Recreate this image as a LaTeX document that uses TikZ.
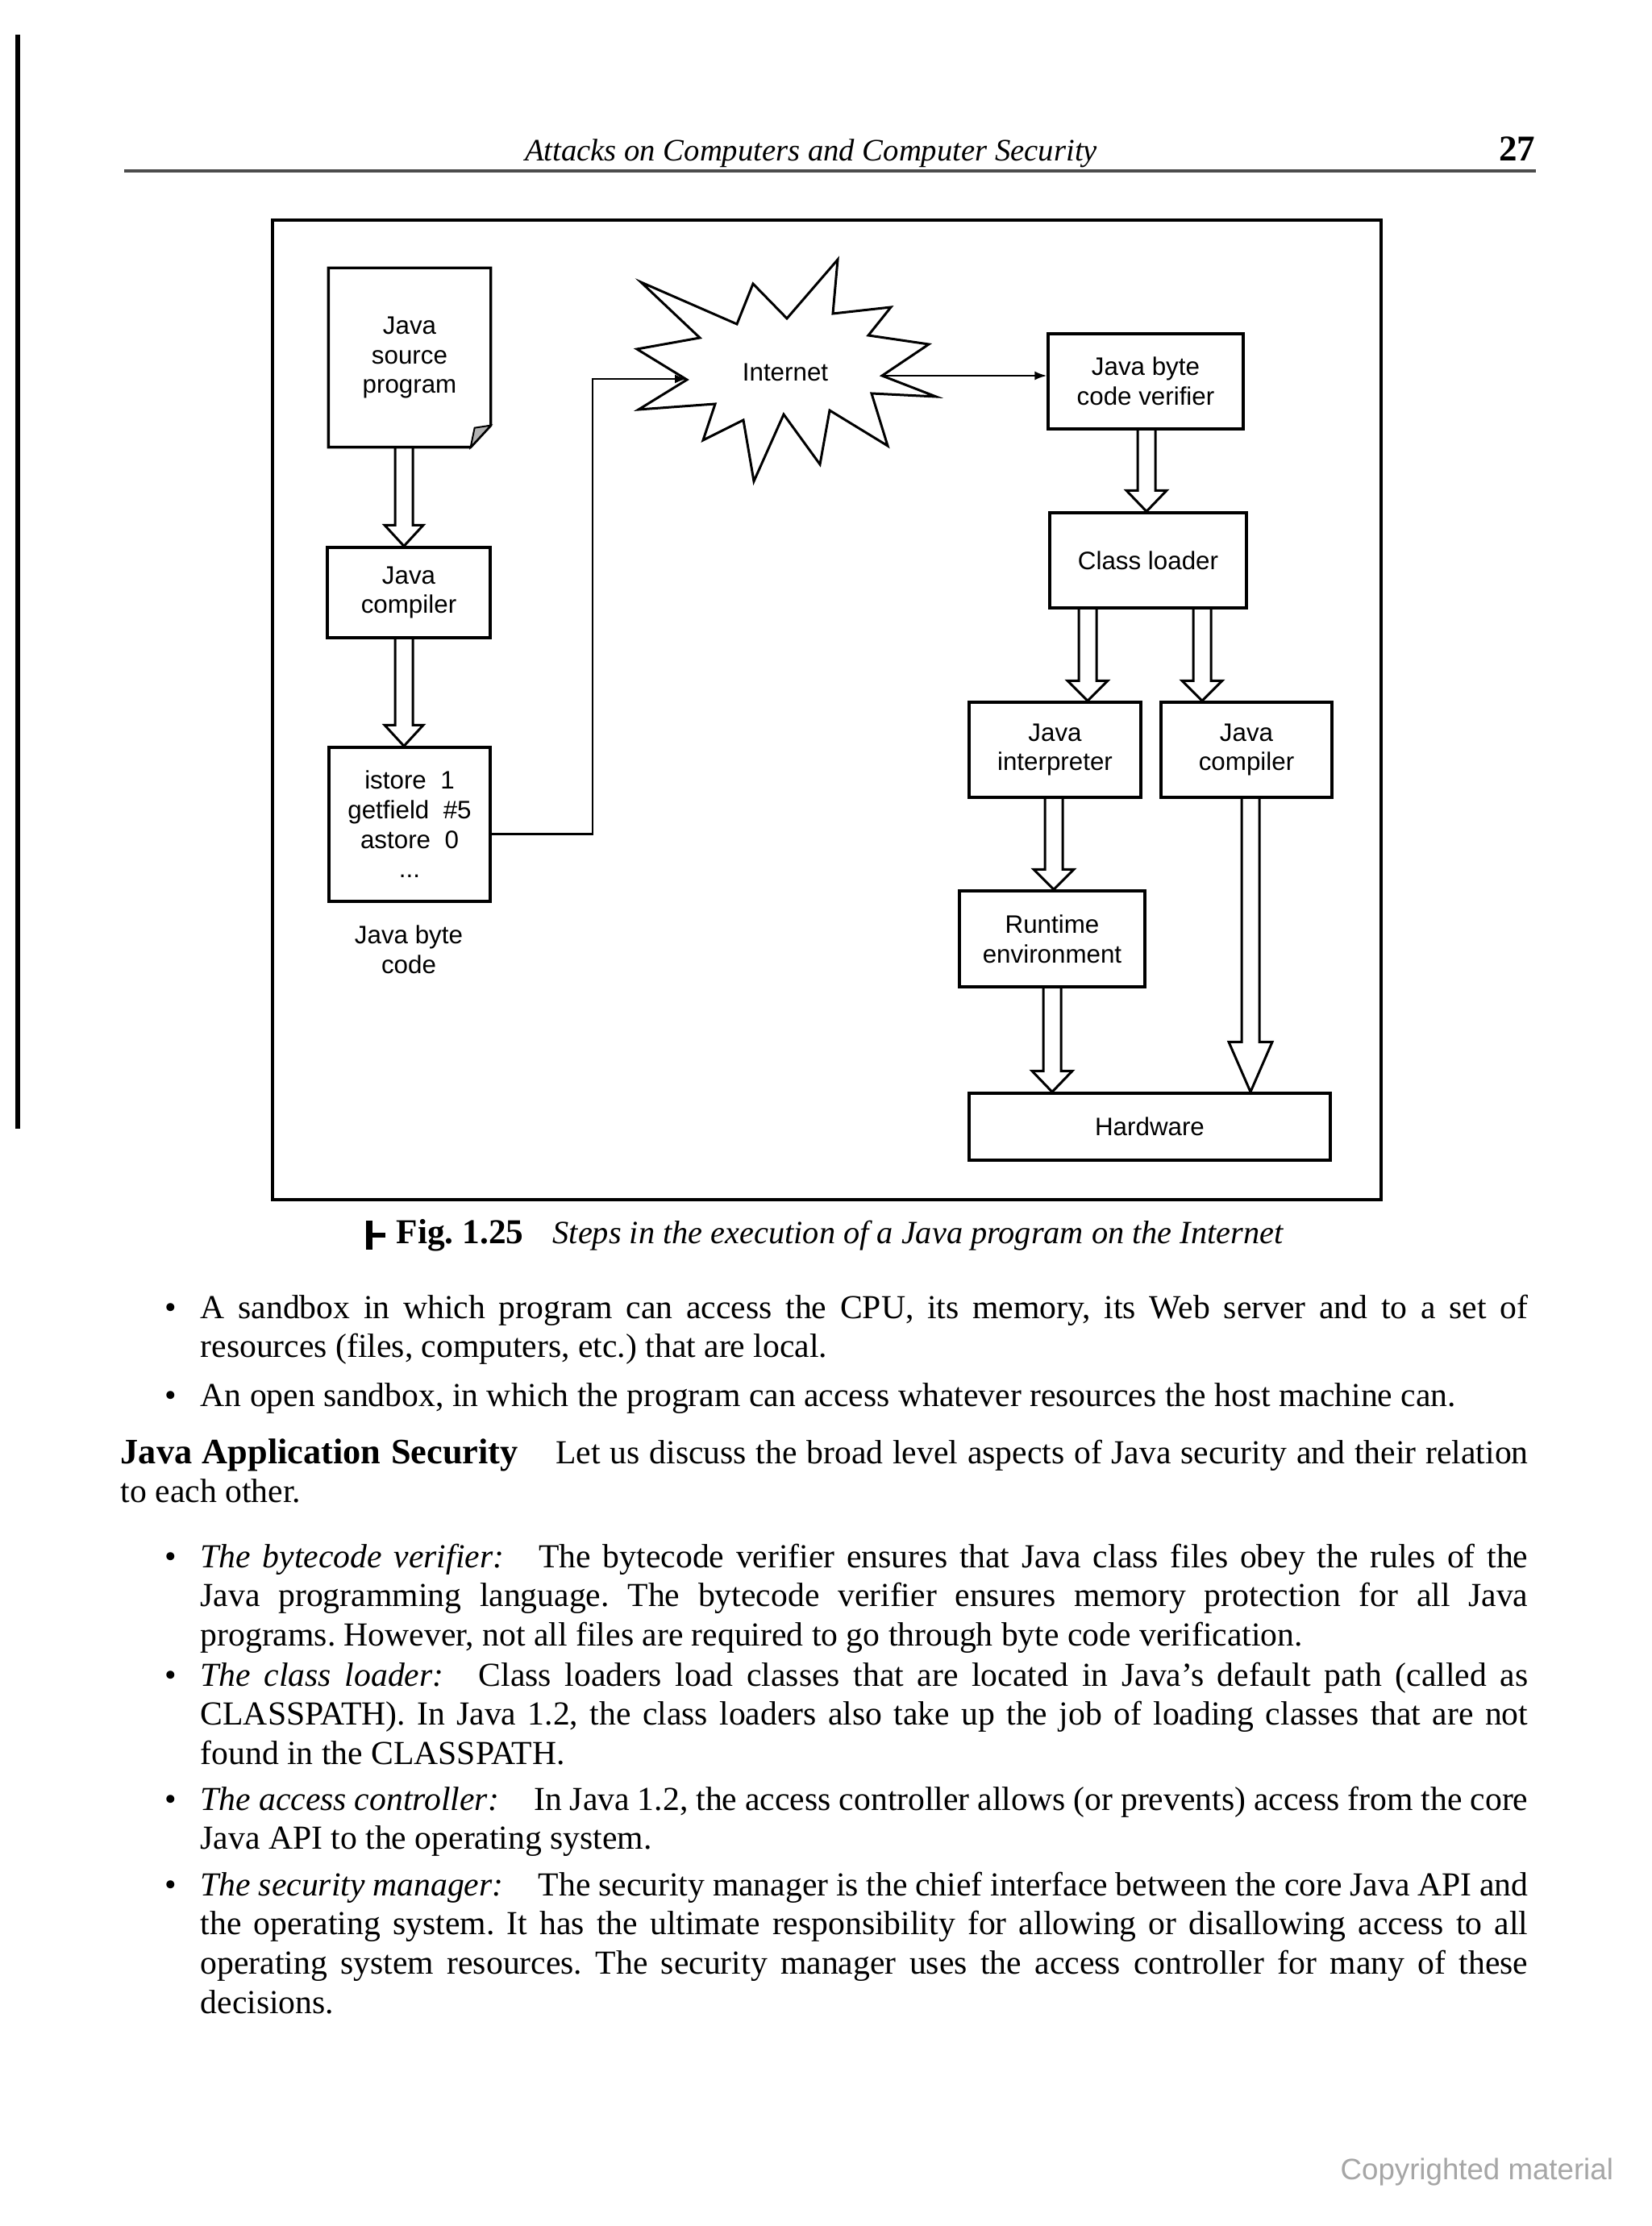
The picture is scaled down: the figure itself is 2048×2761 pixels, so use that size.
\documentclass[tikz,border=0pt]{standalone}
\usepackage{fontspec}
\setmainfont{Liberation Serif}
\setsansfont{Liberation Sans}
\usetikzlibrary{calc,arrows.meta}
\frenchspacing
\newcommand\dfont{\sffamily\fontsize{9.4}{11}\selectfont}
\newcommand\bodyfont{\rmfamily\fontsize{12.5}{14.6}\selectfont\frenchspacing\tolerance=9999\hyphenpenalty=10000\exhyphenpenalty=10000}
\newcommand\blockarrow[4]{%
  \draw[hollow] ($#1+(-11,0)$) -- ($#2+(-11,-#3)$) -- ($#2+(-#4,-#3)$) -- #2
    -- ($#2+(#4,-#3)$) -- ($#2+(11,-#3)$) -- ($#1+(11,0)$);}
\begin{document}
\begin{tikzpicture}[x=0.3pt,y=-0.3pt,
  box/.style={draw, line width=1pt, align=center, inner sep=0pt, font=\dfont},
  plain/.style={align=center, inner sep=0pt, font=\dfont},
  hollow/.style={line width=0.9pt, line join=miter},
  conn/.style={line width=0.7pt, -{Latex[length=4.5pt,width=3.3pt]}},
  body/.style={anchor=base west, inner sep=0pt}]
\useasboundingbox (0,0) rectangle (2048,2761);
\fill[white] (0,0) rectangle (2048,2761);

% scan edge line
\draw[line width=1.8pt] (22,43) -- (22,1400);

% running head
\node[anchor=base, inner sep=0pt, font=\rmfamily\itshape\fontsize{11.6}{13}\selectfont] (head) at (1006,200) {Attacks on Computers and Computer Security};
\node[anchor=base east, inner sep=0pt, font=\rmfamily\bfseries\fontsize{13.5}{15}\selectfont] (pno) at (1905,200) {27};
\draw[line width=1pt, black!70] (154,212) -- (1905,212);

% figure frame
\draw[line width=1.2pt] (338,273) rectangle (1713,1488);

% left column
\node[plain, minimum width=60pt, minimum height=66.3pt] (src) at (508,443.5) {Java\\source\\program};
\draw[line width=1pt, line join=miter] (src.north west) -- (src.north east) -- ($(src.south east)+(0,-27)$) -- ($(src.south east)+(-25,0)$) -- (src.south west) -- cycle;
\filldraw[fill=gray!60, line width=0.6pt] ($(src.south east)+(-25,0)$) -- ($(src.south east)+(-20,-24)$) -- ($(src.south east)+(0,-27)$) -- cycle;

\node[box, minimum width=60.6pt, minimum height=33.6pt] (comp1) at (507,735) {Java\\compiler};
\node[box, minimum width=60pt, minimum height=57.3pt] (bc) at (508,1022.5) {istore~~1\\getfield~~\#5\\astore~~0\\...};
\node[plain] (bclabel) at (507,1178) {Java byte\\code};

% internet star
\draw[line width=0.9pt, line join=miter] (1039,322) -- (1033,389) -- (1105,381) -- (1077,416) -- (1152,427) -- (1094,466) -- (1161,492) -- (1081,488) -- (1101,553) -- (1029,509) -- (1017,576) -- (972,514) -- (935,597) -- (922,521) -- (872,546) -- (887,501) -- (792,508) -- (852,471) -- (790,433) -- (868,419) -- (795,350) -- (914,402) -- (934,352) -- (976,395) -- cycle;
\node[plain] (inet) at (974,462) {Internet};
\coordinate (starL) at (852,470);
\coordinate (starR) at (1094,466);

% right column
\node[box, minimum width=72.6pt, minimum height=35.4pt] (ver) at (1421,473) {Java byte\\code verifier};
\node[box, minimum width=73.2pt, minimum height=35.4pt] (cl) at (1424,695) {Class loader};
\node[box, minimum width=63.9pt, minimum height=35.4pt] (interp) at (1308.5,930) {Java\\interpreter};
\node[box, minimum width=63.6pt, minimum height=35.4pt] (comp2) at (1546,930) {Java\\compiler};
\node[box, minimum width=69pt, minimum height=35.7pt] (rt) at (1305,1164.5) {Runtime\\environment};
\node[box, minimum width=134.4pt, minimum height=24.9pt] (hw) at (1426,1397.5) {Hardware};

% columns for block arrows
\coordinate (c1) at (501,0);
\coordinate (c3) at (1422,0);
\coordinate (c4) at (1349,0);
\coordinate (c5) at (1491,0);
\coordinate (c6) at (1307,0);
\coordinate (c7) at (1305,0);
\coordinate (c8) at (1551,0);

\blockarrow{(c1 |- src.south)}{(c1 |- comp1.north)}{26}{24}
\blockarrow{(c1 |- comp1.south)}{(c1 |- bc.north)}{26}{24}
\blockarrow{(c3 |- ver.south)}{(c3 |- cl.north)}{26}{25}
\blockarrow{(c4 |- cl.south)}{(c4 |- interp.north)}{25}{25}
\blockarrow{(c5 |- cl.south)}{(c5 |- comp2.north)}{25}{25}
\blockarrow{(c6 |- interp.south)}{(c6 |- rt.north)}{25}{25}
\blockarrow{(c7 |- rt.south)}{(c7 |- hw.north)}{26}{25}
\blockarrow{(c8 |- comp2.south)}{(c8 |- hw.north)}{62}{27}

% line connectors
\draw[conn] ($(bc.east)+(0,12)$) -- ++(125,0) |- (starL);
\draw[conn] (starR) -- (starR -| ver.west);

% caption
\fill (454,1514) rectangle (462,1550);
\fill (462,1529) rectangle (478,1535);
\node[anchor=base west, inner sep=0pt, font=\rmfamily\bfseries\fontsize{13}{15}\selectfont] (figno) at (491,1542) {Fig. 1.25};
\node[anchor=base west, inner sep=0pt, font=\rmfamily\itshape\fontsize{12.1}{14}\selectfont] (figcap) at (685,1542) {Steps in the execution of a Java program on the Internet};

% body text
\node[anchor=base, inner sep=0pt, font=\bodyfont] (d1) at (212,1635) {•};
\node[body] (p1) at (248,1635) {\parbox[t]{494pt}{\bodyfont A sandbox in which program can access the CPU, its memory, its Web server and to a set of\linebreak resources (files, computers, etc.) that are local.}};
\node[anchor=base, inner sep=0pt, font=\bodyfont] (d2) at (212,1744) {•};
\node[body] (p2) at (248,1744) {\parbox[t]{494pt}{\bodyfont An open sandbox, in which the program can access whatever resources the host machine can.}};

\node[body] (p3) at (149,1815) {\parbox[t]{523.8pt}{\bodyfont{\bfseries\fontsize{13.3}{14.6}\selectfont Java Application Security}\hspace{14pt}Let us discuss the broad level aspects of Java security and their relation\linebreak to each other.}};

\node[anchor=base, inner sep=0pt, font=\bodyfont] (d3) at (212,1944) {•};
\node[body] (p4) at (248,1944) {\parbox[t]{494pt}{\bodyfont{\itshape The bytecode verifier:}\hspace{13pt}The bytecode verifier ensures that Java class files obey the rules of the\linebreak Java programming language. The bytecode verifier ensures memory protection for all Java\linebreak programs. However, not all files are required to go through byte code verification.}};

\node[anchor=base, inner sep=0pt, font=\bodyfont] (d4) at (212,2091) {•};
\node[body] (p5) at (248,2091) {\parbox[t]{494pt}{\bodyfont{\itshape The class loader:}\hspace{13pt}Class loaders load classes that are located in Java's default path (called as\linebreak CLASSPATH). In Java 1.2, the class loaders also take up the job of loading classes that are not\linebreak found in the CLASSPATH.}};

\node[anchor=base, inner sep=0pt, font=\bodyfont] (d5) at (212,2245) {•};
\node[body] (p6) at (248,2245) {\parbox[t]{494pt}{\bodyfont{\itshape The access controller:}\hspace{13pt}In Java 1.2, the access controller allows (or prevents) access from the core\linebreak Java API to the operating system.}};

\node[anchor=base, inner sep=0pt, font=\bodyfont] (d6) at (212,2351) {•};
\node[body] (p7) at (248,2351) {\parbox[t]{494pt}{\bodyfont{\itshape The security manager:}\hspace{13pt}The security manager is the chief interface between the core Java API and\linebreak the operating system. It has the ultimate responsibility for allowing or disallowing access to all\linebreak operating system resources. The security manager uses the access controller for many of these\linebreak decisions.}};

% watermark
\node[anchor=base west, inner sep=0pt, font=\sffamily\fontsize{11}{13}\selectfont, text=black!35] (copy) at (1662,2703) {Copyrighted material};
\end{tikzpicture}
\end{document}
